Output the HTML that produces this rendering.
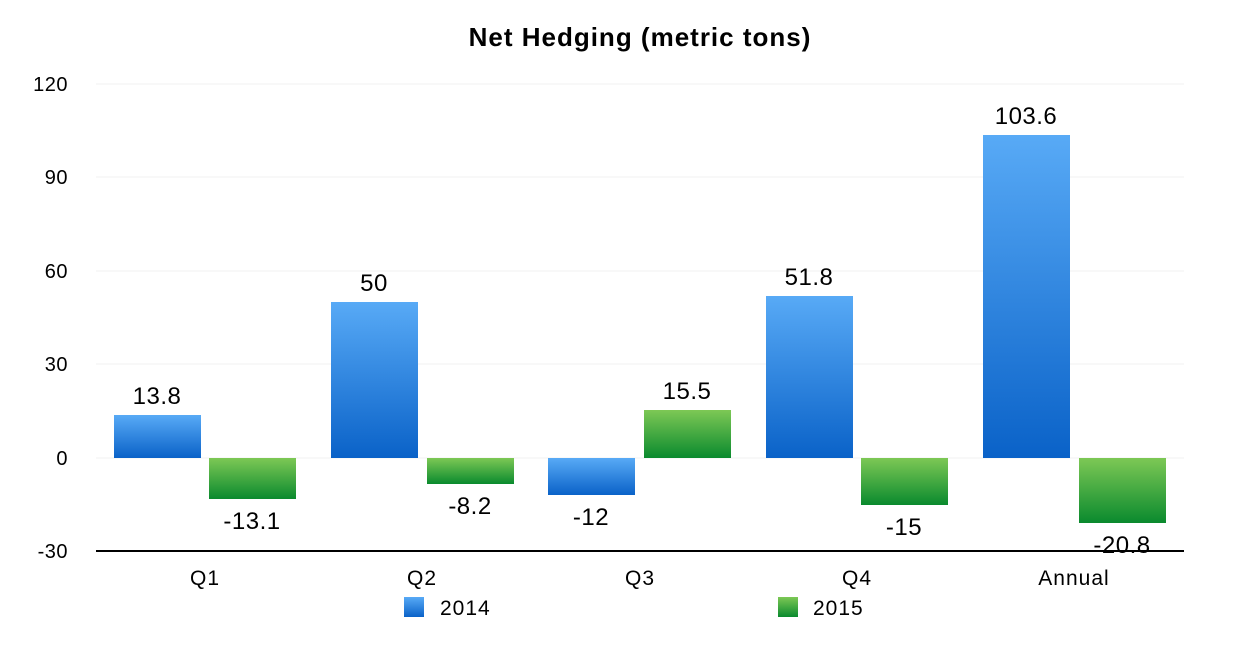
<!DOCTYPE html>
<html><head><meta charset="utf-8"><style>
html,body{margin:0;padding:0;background:#fff;}
svg{display:block;font-family:"Liberation Sans",Arial,sans-serif;}
</style></head><body>
<svg width="1240" height="650" viewBox="0 0 1240 650" xmlns="http://www.w3.org/2000/svg">
<defs>
<linearGradient id="b" x1="0" y1="0" x2="0" y2="1"><stop offset="0" stop-color="#58aaf6"/><stop offset="1" stop-color="#0a62c8"/></linearGradient>
<linearGradient id="g" x1="0" y1="0" x2="0" y2="1"><stop offset="0" stop-color="#7dc855"/><stop offset="1" stop-color="#0a8a2e"/></linearGradient>
</defs>
<text x="640" y="46" text-anchor="middle" font-size="26" font-weight="bold" letter-spacing="1" fill="#000">Net Hedging (metric tons)</text>
<g stroke="#f0f0f0" stroke-width="1">
<line x1="96" y1="84" x2="1184" y2="84"/><line x1="96" y1="177" x2="1184" y2="177"/><line x1="96" y1="271" x2="1184" y2="271"/><line x1="96" y1="364" x2="1184" y2="364"/><line x1="96" y1="458" x2="1184" y2="458"/>
</g>
<line x1="96" y1="551" x2="1184" y2="551" stroke="#000" stroke-width="2"/>
<g font-size="20" text-anchor="end" fill="#000" letter-spacing="0.5">
<text x="68" y="91">120</text><text x="68" y="184">90</text><text x="68" y="278">60</text><text x="68" y="371">30</text><text x="68" y="465">0</text><text x="68" y="558">-30</text>
</g>
<g>
<rect x="114" y="415" width="87" height="43" fill="url(#b)"/>
<rect x="209" y="458" width="87" height="41" fill="url(#g)"/>
<rect x="331" y="302" width="87" height="156" fill="url(#b)"/>
<rect x="427" y="458" width="87" height="26" fill="url(#g)"/>
<rect x="548" y="458" width="87" height="37" fill="url(#b)"/>
<rect x="644" y="410" width="87" height="48" fill="url(#g)"/>
<rect x="766" y="296" width="87" height="162" fill="url(#b)"/>
<rect x="861" y="458" width="87" height="47" fill="url(#g)"/>
<rect x="983" y="135" width="87" height="323" fill="url(#b)"/>
<rect x="1079" y="458" width="87" height="65" fill="url(#g)"/>
</g>
<g font-size="24" text-anchor="middle" fill="#000" letter-spacing="0.5">
<text x="157" y="404">13.8</text><text x="252" y="529">-13.1</text>
<text x="374" y="291">50</text><text x="470" y="514">-8.2</text>
<text x="591" y="525">-12</text><text x="687" y="399">15.5</text>
<text x="809" y="285">51.8</text><text x="904" y="535">-15</text>
<text x="1026" y="124">103.6</text><text x="1122" y="553">-20.8</text>
</g>
<g font-size="21" text-anchor="middle" fill="#000" letter-spacing="1">
<text x="205" y="585">Q1</text><text x="422" y="585">Q2</text><text x="640" y="585">Q3</text><text x="857" y="585">Q4</text><text x="1074" y="585">Annual</text>
</g>
<rect x="404" y="597" width="20" height="20" fill="url(#b)"/>
<text x="440" y="615" font-size="21" letter-spacing="1">2014</text>
<rect x="778" y="597" width="20" height="20" fill="url(#g)"/>
<text x="813" y="615" font-size="21" letter-spacing="1">2015</text>
</svg>
</body></html>
